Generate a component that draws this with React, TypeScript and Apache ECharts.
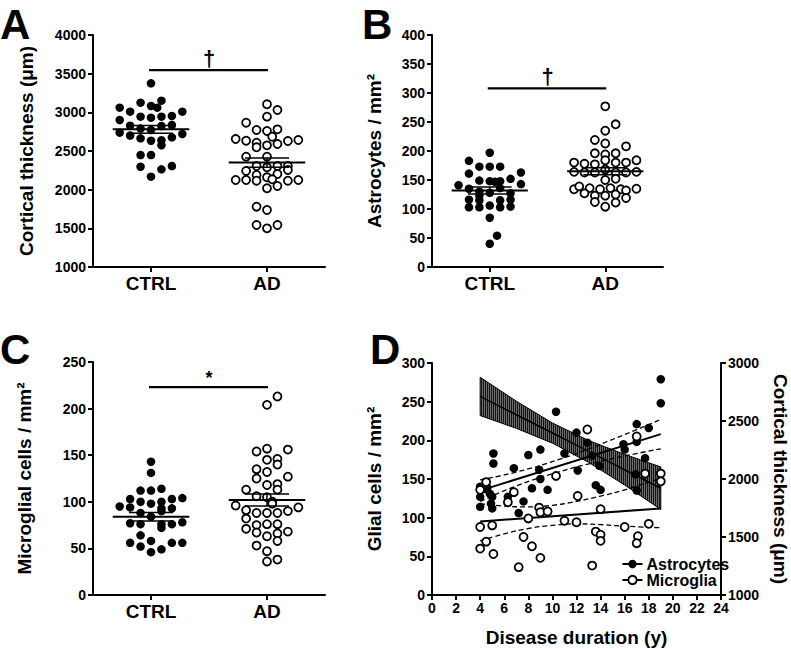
import React, { useEffect, useRef } from "react";
import * as echarts from "echarts";

const FONT = "'Liberation Sans', Arial, Helvetica, sans-serif";
const groups = ["CTRL", "AD"];

// Beeswarm points: [slot offset (dot widths from the group centre), value]
// Panel A: cortical thickness (µm)
const thickCtrl = [
  [0, 3375],
  [-3, 3060], [-2, 3009], [-1, 3125], [0, 3082], [0.6, 3060], [1, 3151], [3, 3009],
  [-3, 2901], [-1, 2944], [0, 2931], [1, 2944], [2, 2953],
  [-2, 2827], [-1, 2790], [0, 2772], [1, 2823], [2, 2836],
  [-3, 2737], [-2, 2700], [3, 2720],
  [-1, 2664], [0, 2633], [1, 2640], [1, 2575], [2, 2677],
  [-1, 2448], [0, 2448],
  [-1, 2297], [1, 2263], [2, 2306],
  [0, 2168],
];
const thickAd = [
  [0, 3104], [1, 3030], [0, 2944], [-2, 2866], [-1, 2772], [0, 2759], [1, 2780],
  [-3, 2655], [-2, 2633], [-1, 2608], [-1, 2548], [0, 2573], [0.5, 2685], [1, 2590], [2, 2629], [3, 2642],
  [-2, 2427], [0, 2427], [-1, 2306], [0, 2289], [1, 2306], [2, 2306], [-2, 2242], [2, 2255],
  [-1, 2190], [0, 2160], [1, 2203], [-3, 2125], [-2, 2125], [-1, 2116], [0.5, 2134], [2, 2116], [3, 2125],
  [0, 2018], [1, 2048], [-1, 1780], [0, 1737], [-1, 1543], [0, 1500], [1, 1543],
];
const thickMean = [2780, 2350];
const thickSem = [50, 60];

// Panel B: astrocytes / mm²
const astroCtrl = [
  [0, 197], [-2, 183], [-1, 173], [0, 173], [1, 173], [-2, 161], [3, 163],
  [-1, 149], [0, 148], [0.5, 147], [1, 148], [2, 152], [-3, 141], [3, 143],
  [-2, 135], [-1, 130], [0, 128], [1, 136], [-1, 123], [2, 127],
  [-2, 116], [-1, 115], [1, 115], [2, 116],
  [-2, 103], [-1, 103], [0, 106], [1, 103], [2, 104],
  [0, 85], [0.7, 54], [0, 40],
];
const astroAd = [
  [0, 277], [1, 246], [0, 235], [-1, 219], [0, 213], [2, 208], [-1, 196], [0, 194], [1, 196],
  [-3, 180], [-2, 178], [-1, 177], [0, 184], [1, 180], [2, 180], [3, 184],
  [-3, 164], [-2, 163], [-1, 163], [0, 168], [1, 163], [2, 163], [3, 164],
  [0, 150], [1, 152],
  [-3, 134], [-2.5, 139], [-1.5, 136], [-0.5, 134], [0.5, 136], [1.5, 134], [2, 132], [3, 135],
  [-2, 127], [-1, 123], [0, 123], [1, 125], [2, 119],
  [-1, 112], [1, 111], [0, 104],
];
const astroMean = [132, 165];
const astroSem = [6, 6];

// Panel C: microglial cells / mm²
const microCtrl = [
  [0, 143], [0, 131],
  [-1, 112], [0, 112], [1, 114],
  [-2, 103], [-1, 100], [0, 98], [1, 100], [2, 103], [3, 104],
  [-3, 95], [-2, 94], [1, 93], [2, 93],
  [-1, 88], [0, 84], [1, 90],
  [-2, 77], [-1, 76], [1, 76], [1, 72], [2, 76], [3, 78],
  [-1, 64], [0, 58],
  [-2, 56], [-1, 52], [2, 56], [3, 56],
  [0, 46], [1, 49],
];
const microAd = [
  [1, 213], [0, 204], [-1, 154], [0, 157], [2, 156], [0, 145], [1, 146], [1, 140],
  [-1, 135], [0, 132], [-1, 125], [2, 127], [0, 118], [1, 119],
  [-2, 113], [1, 113], [-1, 106], [0, 105], [0.5, 100],
  [0.5, 98], [-3, 96], [3, 94], [-2, 91],
  [-1, 88], [0, 88], [1, 88], [2, 90],
  [-2, 82], [-1, 75], [0, 76], [1, 76],
  [-2, 71], [-1, 67], [0, 63], [1, 66], [2, 68], [1, 58],
  [-1, 53], [0, 47], [0, 36], [1, 38],
];
const microMean = [84, 102];
const microSem = [4.5, 6.5];

// Significance bars (value level) and marks for A, B, C
const sigLevels = [3547, 308, 223];
const sigMarks = ["†", "†", "*"];

// Panel D: disease duration (y) vs glial cells / mm²
const durAstro = [
  [4.0, 140], [4.0, 127], [4.0, 114], [4.3, 137], [4.6, 139], [4.8, 131], [5.0, 127], [4.9, 118], [5.0, 112], [5.1, 183], [5.1, 170],
  [6.3, 127], [6.8, 164], [7.2, 106], [7.6, 121], [8.0, 181], [8.3, 138], [8.9, 162], [9.0, 188], [9.0, 150], [9.6, 136],
  [10.3, 237], [11.0, 183], [12.0, 210], [12.1, 161], [12.9, 197], [13.3, 180], [13.6, 142], [13.9, 167], [14.0, 136],
  [15.9, 195], [16.0, 188], [16.9, 156], [17.0, 221], [17.0, 198], [17.0, 135], [17.7, 177], [18.0, 216], [19.0, 279], [19.0, 248],
];
const durMicro = [
  [4.0, 88], [4.0, 60], [4.0, 136], [4.5, 69], [4.5, 146], [5.0, 90], [5.1, 53], [6.3, 120], [6.8, 133], [7.2, 36],
  [7.6, 75], [8.0, 99], [8.3, 63], [8.9, 113], [9.0, 107], [9.0, 48], [9.6, 108], [10.3, 154], [11.0, 96], [12.0, 94],
  [12.1, 128], [12.9, 214], [13.3, 38], [13.6, 82], [14.0, 78], [14.0, 70], [14.0, 111], [16.0, 88], [17.0, 205], [17.1, 76],
  [17.0, 67], [17.7, 157], [18.0, 92], [19.0, 157], [19.0, 147],
];
const astroFit = [[4, 135], [19, 208]];
const astroCiUpper = [[4, 149], [7, 159], [10.5, 175], [14, 195], [19, 227]];
const astroCiLower = [[4, 121], [7, 141], [10.5, 159], [14, 173], [19, 189]];
const microFit = [[4, 95], [19, 112]];
const microCiUpper = [[4, 118], [6, 115], [8, 114], [10, 116], [12, 121], [14, 128], [16, 136], [19, 151]];
const microCiLower = [[4, 70], [6, 79], [8, 86], [10, 90], [12, 92], [14, 91], [16, 89], [19, 87]];
// Cortical thickness fit (right axis): [duration, lower 95% CI, fit, upper 95% CI]
const thickBand = [
  [4, 2547, 2712, 2877],
  [7, 2437, 2554, 2671],
  [10, 2309, 2396, 2483],
  [13, 2144, 2238, 2332],
  [16, 1948, 2080, 2212],
  [19, 1738, 1921, 2104],
];

const SLOT = 0.09;
const BLACK = "#000";

const txt = (size: number) => ({ color: BLACK, fontSize: size, fontWeight: "bold" as const, fontFamily: FONT });

function catAxis(grid: number) {
  return {
    type: "category", gridIndex: grid, data: groups, boundaryGap: true,
    axisLine: { show: true, lineStyle: { color: BLACK, width: 2 } },
    axisTick: { show: true, alignWithLabel: true, length: 5, lineStyle: { color: BLACK, width: 2 } },
    axisLabel: { ...txt(19), margin: 7 },
    splitLine: { show: false },
  };
}
function hiddenX(grid: number) {
  return { type: "value", gridIndex: grid, min: 0.5, max: 2.5, show: false };
}
function valAxis(grid: number, min: number, max: number, interval: number, name: string, nameGap: number, position = "left", nameRotate = 90) {
  return {
    type: "value", gridIndex: grid, min, max, interval, position,
    name, nameLocation: "middle", nameGap, nameRotate,
    nameTextStyle: txt(19),
    axisLine: { show: true, lineStyle: { color: BLACK, width: 2 } },
    axisTick: { show: true, length: 5, lineStyle: { color: BLACK, width: 2 } },
    axisLabel: { ...txt(14), margin: 7, formatter: (v: number) => String(v) },
    splitLine: { show: false },
  };
}

function dots(xi: number, yi: number, pts: number[][], center: number, open: boolean) {
  return {
    type: "scatter", xAxisIndex: xi, yAxisIndex: yi, z: 4,
    data: pts.map(([k, v]) => [center + k * SLOT, v]),
    symbol: "circle", symbolSize: open ? 8 : 8.5,
    itemStyle: open ? { color: "#fff", borderColor: BLACK, borderWidth: 1.8, opacity: 1 } : { color: BLACK, opacity: 1 },
  };
}

function meanSem(xi: number, yi: number, means: number[], sems: number[]) {
  return {
    type: "custom", xAxisIndex: xi, yAxisIndex: yi, z: 6,
    data: means.map((m, i) => [i + 1, m, sems[i]]),
    encode: { x: 0, y: 1 },
    renderItem: (params: any, api: any) => {
      const cx = api.value(0), m = api.value(1), s = api.value(2);
      const seg = (x1: number, y1: number, x2: number, y2: number, w: number) => {
        const a = api.coord([x1, y1]), b = api.coord([x2, y2]);
        return { type: "line", shape: { x1: a[0], y1: a[1], x2: b[0], y2: b[1] }, style: { stroke: BLACK, lineWidth: w } };
      };
      return {
        type: "group",
        children: [
          seg(cx - 0.33, m, cx + 0.33, m, 2),
          seg(cx - 0.19, m + s, cx + 0.19, m + s, 1.5),
          seg(cx - 0.19, m - s, cx + 0.19, m - s, 1.5),
          seg(cx, m - s, cx, m + s, 1.5),
        ],
      };
    },
  };
}

function sigBar(xi: number, yi: number, idx: number) {
  return {
    type: "custom", xAxisIndex: xi, yAxisIndex: yi, z: 6,
    data: [[1, sigLevels[idx]]],
    encode: { x: 0, y: 1 },
    renderItem: (params: any, api: any) => {
      const a = api.coord([1, sigLevels[idx]]);
      const b = api.coord([2, sigLevels[idx]]);
      const mark = sigMarks[idx];
      const fs = mark === "*" ? 18 : 22;
      return {
        type: "group",
        children: [
          { type: "line", shape: { x1: a[0] - 2, y1: a[1], x2: b[0] + 1, y2: b[1] }, style: { stroke: BLACK, lineWidth: 2.2 } },
          {
            type: "text", x: (a[0] + b[0]) / 2, y: a[1] - (mark === "*" ? 0 : 1),
            style: { text: mark, fill: BLACK, font: `bold ${fs}px ${FONT}`, textAlign: "center", textVerticalAlign: "bottom", align: "center", verticalAlign: "bottom" },
          },
        ],
      };
    },
  };
}

function fitLine(data: number[][], dashed: boolean, width: number) {
  return {
    type: "line", xAxisIndex: 6, yAxisIndex: 3, data, symbol: "none", smooth: dashed ? 0.5 : false, z: 3,
    lineStyle: { color: BLACK, width, type: dashed ? [5, 3] : "solid" },
    silent: true,
  };
}

function interpY(pts: number[][], x: number) {
  for (let i = 0; i < pts.length - 1; i++) {
    const [x1, y1] = pts[i], [x2, y2] = pts[i + 1];
    if (x >= x1 && x <= x2) return y1 + ((y2 - y1) * (x - x1)) / (x2 - x1);
  }
  return pts[pts.length - 1][1];
}

const bandSeries = {
  type: "custom", xAxisIndex: 6, yAxisIndex: 4, z: 2,
  data: thickBand,
  encode: { x: 0, y: [1, 2, 3] },
  renderItem: (params: any, api: any) => {
    if (params.dataIndex !== 0) return null;
    const top = thickBand.map((r) => api.coord([r[0], r[3]]));
    const bot = thickBand.map((r) => api.coord([r[0], r[1]]));
    const mid = thickBand.map((r) => api.coord([r[0], r[2]]));
    const children: any[] = [
      { type: "polygon", shape: { points: [...top, ...bot.slice().reverse()] }, style: { fill: "#808080", stroke: BLACK, lineWidth: 1 } },
    ];
    const x0 = top[0][0], x1 = top[top.length - 1][0];
    for (let x = x0 + 1.5; x < x1; x += 2) {
      children.push({ type: "line", shape: { x1: x, y1: interpY(top, x), x2: x, y2: interpY(bot, x) }, style: { stroke: BLACK, lineWidth: 1 } });
    }
    children.push({ type: "polyline", shape: { points: mid }, style: { stroke: BLACK, lineWidth: 1.6, fill: null } });
    return { type: "group", children };
  },
};

export default function App() {
  const ref = useRef<HTMLDivElement>(null);
  useEffect(() => {
    if (!ref.current) return;
    const chart = echarts.init(ref.current, undefined, { renderer: "svg" });
    const letter = (t: string, x: number, y: number) => ({
      type: "text", left: x, top: y,
      style: { text: t, fill: BLACK, font: `bold 42px ${FONT}` },
    });
    const legendRow = (label: string, y: number, open: boolean) => ({
      type: "group", left: 620, top: y - 9,
      children: [
        { type: "line", shape: { x1: 0, y1: 9, x2: 20, y2: 9 }, style: { stroke: BLACK, lineWidth: 2 } },
        { type: "circle", shape: { cx: 10, cy: 9, r: 4.2 }, style: open ? { fill: "#fff", stroke: BLACK, lineWidth: 1.8 } : { fill: BLACK } },
        { type: "text", x: 24, y: 9, style: { text: label, fill: BLACK, font: `bold 16px ${FONT}`, textVerticalAlign: "middle", verticalAlign: "middle" } },
      ],
    });
    chart.setOption({
      animation: false,
      backgroundColor: "#fff",
      textStyle: { fontFamily: FONT },
      grid: [
        { left: 93, top: 35, width: 232, height: 232 },
        { left: 432, top: 35, width: 231, height: 232 },
        { left: 93, top: 362, width: 232, height: 233 },
        { left: 432, top: 363, width: 291, height: 232 },
      ],
      xAxis: [
        catAxis(0), hiddenX(0),
        catAxis(1), hiddenX(1),
        catAxis(2), hiddenX(2),
        {
          type: "value", gridIndex: 3, min: 0, max: 24, interval: 2,
          name: "Disease duration (y)", nameLocation: "middle", nameGap: 33, nameTextStyle: txt(19),
          axisLine: { show: true, lineStyle: { color: BLACK, width: 2 } },
          axisTick: { show: true, length: 5, lineStyle: { color: BLACK, width: 2 } },
          axisLabel: { ...txt(14), margin: 6 },
          splitLine: { show: false },
        },
      ],
      yAxis: [
        valAxis(0, 1000, 4000, 500, "Cortical thickness (μm)", 57),
        valAxis(1, 0, 400, 50, "Astrocytes / mm²", 48),
        valAxis(2, 0, 250, 50, "Microglial cells / mm²", 59),
        valAxis(3, 0, 300, 50, "Glial cells / mm²", 48),
        valAxis(3, 1000, 3000, 500, "Cortical thickness (μm)", 50, "right", -90),
      ],
      graphic: [
        letter("A", 0, 3),
        letter("B", 362, 3),
        letter("C", 0, 328),
        letter("D", 370, 328),
        legendRow("Astrocytes", 565, false),
        legendRow("Microglia", 581, true),
      ],
      series: [
        dots(1, 0, thickCtrl, 1, false), dots(1, 0, thickAd, 2, true),
        meanSem(1, 0, thickMean, thickSem), sigBar(1, 0, 0),
        dots(3, 1, astroCtrl, 1, false), dots(3, 1, astroAd, 2, true),
        meanSem(3, 1, astroMean, astroSem), sigBar(3, 1, 1),
        dots(5, 2, microCtrl, 1, false), dots(5, 2, microAd, 2, true),
        meanSem(5, 2, microMean, microSem), sigBar(5, 2, 2),
        bandSeries,
        fitLine(astroFit, false, 2), fitLine(astroCiUpper, true, 1.3), fitLine(astroCiLower, true, 1.3),
        fitLine(microFit, false, 2), fitLine(microCiUpper, true, 1.3), fitLine(microCiLower, true, 1.3),
        {
          type: "scatter", name: "Astrocytes", xAxisIndex: 6, yAxisIndex: 3, z: 5, data: durAstro,
          symbolSize: 8.5, itemStyle: { color: BLACK, opacity: 1 },
        },
        {
          type: "scatter", name: "Microglia", xAxisIndex: 6, yAxisIndex: 3, z: 5, data: durMicro,
          symbolSize: 8, itemStyle: { color: "#fff", borderColor: BLACK, borderWidth: 1.8, opacity: 1 },
        },
      ],
    });
    return () => chart.dispose();
  }, []);
  return <div ref={ref} style={{ position: "absolute", left: 0, top: 0, width: 791, height: 649 }} />;
}
